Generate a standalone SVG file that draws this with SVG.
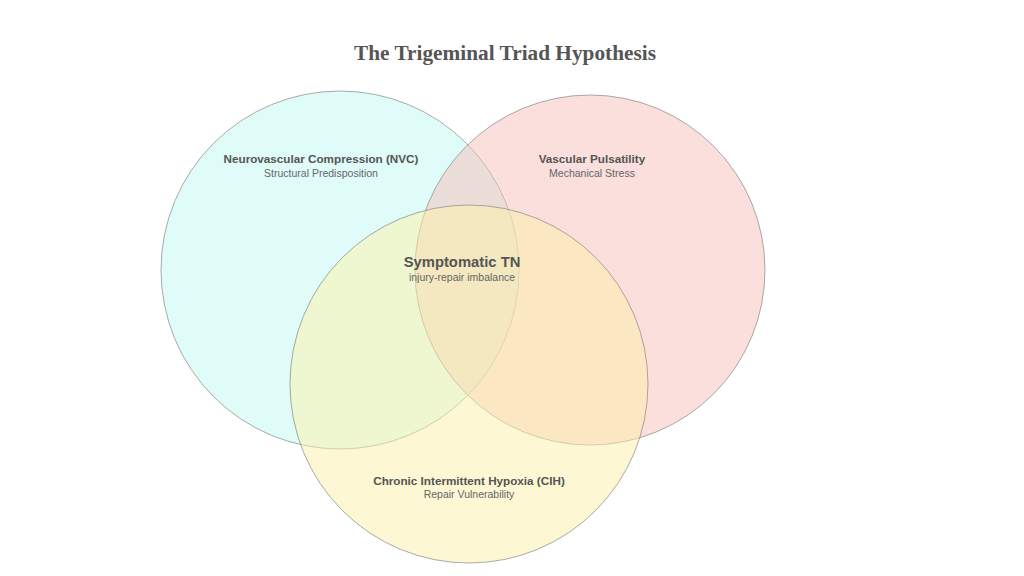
<svg xmlns="http://www.w3.org/2000/svg" width="1024" height="576" viewBox="0 0 1024 576">
<style>
.c{stroke:#888;stroke-opacity:0.7;stroke-width:1;fill-opacity:0.5}
.h{font-family:"Liberation Sans",Arial,sans-serif;font-size:11.7px;font-weight:bold;fill:#555;text-anchor:middle}
.s{font-family:"Liberation Sans",Arial,sans-serif;font-size:10.5px;fill:#666;text-anchor:middle}
</style>
<rect width="1024" height="576" fill="#fff"/>
<text x="505" y="60" font-family="Liberation Serif,serif" font-size="21.3" font-weight="bold" fill="#555" text-anchor="middle">The Trigeminal Triad Hypothesis</text>
<g id="nvc"><circle class="c" cx="340" cy="270" r="179" fill="#c1f9f1"/></g>
<g id="pulsatility"><circle class="c" cx="590" cy="270" r="175" fill="#f5bfba"/></g>
<g id="cih"><circle class="c" cx="469" cy="384" r="179" fill="#fbf1a7"/></g>
<g id="labels">
<text class="h" x="321" y="163">Neurovascular Compression (NVC)</text>
<text class="s" x="321" y="177">Structural Predisposition</text>
<text class="h" x="592" y="163">Vascular Pulsatility</text>
<text class="s" x="592" y="177">Mechanical Stress</text>
<text class="h" x="462" y="267" style="font-size:14.8px">Symptomatic TN</text>
<text class="s" x="462" y="281">injury-repair imbalance</text>
<text class="h" x="469" y="485">Chronic Intermittent Hypoxia (CIH)</text>
<text class="s" x="469" y="498">Repair Vulnerability</text>
</g>
<g id="connectors"/>
</svg>
